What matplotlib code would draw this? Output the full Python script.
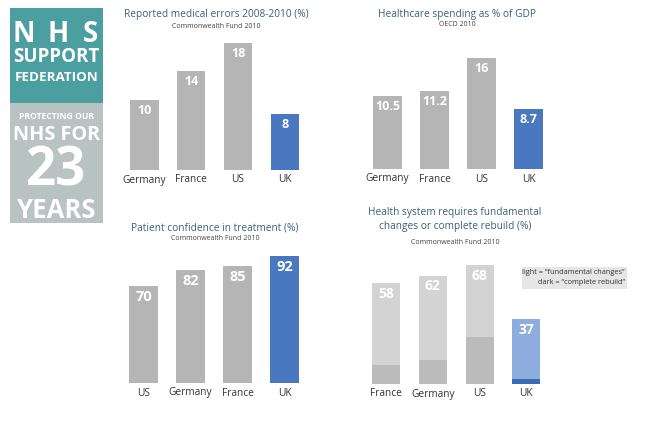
import matplotlib.pyplot as plt
from matplotlib.patches import Rectangle

plt.rcParams['font.family'] = ['Open Sans', 'DejaVu Sans']

W, H = 650, 421

# data
errors_cats = ["Germany", "France", "US", "UK"]
errors_vals = [10, 14, 18, 8]

spend_cats = ["Germany", "France", "US", "UK"]
spend_vals = [10.5, 11.2, 16, 8.7]
spend_labels = ["10.5", "11.2", "16", "8.7"]

conf_cats = ["US", "Germany", "France", "UK"]
conf_vals = [70, 82, 85, 92]

rebuild_cats = ["France", "Germany", "US", "UK"]
rebuild_total = [58, 62, 68, 37]
rebuild_complete = [11, 14, 27, 3]

GREY = "#b5b5b5"
BLUE = "#4a78c0"
LIGHT_GREY = "#d3d3d3"
DARK_GREY = "#bbbbbb"
LIGHT_BLUE = "#8cadde"
DARK_BLUE = "#3a6bb5"
TITLE_C = "#3d6078"
SUB_C = "#444444"

fig = plt.figure(figsize=(6.5, 4.21), dpi=100)
fig.patch.set_facecolor("white")


def px(x, y):
    # pixel (from top-left) -> figure fraction
    return x / W, 1 - y / H


def make_ax(x0, step, base, scale, span=150):
    left = x0 - step / 2
    ax = fig.add_axes([left / W, (H - base) / H, 4 * step / W, span / H])
    ax.set_xlim(-0.5, 3.5)
    ax.set_ylim(0, span / scale)
    ax.axis("off")
    return ax


def cat_labels(ax, cats, scale):
    for i, c in enumerate(cats):
        ax.text(i, -10 / scale, c, ha="center", va="center", fontsize=7.3,
                color="#333333")


def val_labels(ax, vals, labels, scale, size):
    for i, (v, t) in enumerate(zip(vals, labels)):
        ax.text(i, v - 4 / scale, t, ha="center", va="top", fontsize=size,
                color="white", fontweight="bold")


def title(x, y, lines, sub, sub_y):
    for k, line in enumerate(lines):
        fig.text(*px(x, y + k * 14), line, ha="center", va="center",
                 fontsize=7.3, color=TITLE_C)
    fig.text(*px(x, sub_y), sub, ha="center", va="center", fontsize=5,
             color=SUB_C)


# panel 1
s1 = 7.05
ax1 = make_ax(144.5, 46.8, 170, s1)
ax1.bar(range(4), errors_vals, width=0.6, color=[GREY, GREY, GREY, BLUE])
val_labels(ax1, errors_vals, [str(v) for v in errors_vals], s1, 9)
cat_labels(ax1, errors_cats, s1)
title(216, 15, ["Reported medical errors 2008-2010 (%)"], "Commonwealth Fund 2010", 26)

# panel 2
s2 = 6.93
ax2 = make_ax(387.5, 47, 169, s2)
ax2.bar(range(4), spend_vals, width=0.6, color=[GREY, GREY, GREY, BLUE])
val_labels(ax2, spend_vals, spend_labels, s2, 9)
cat_labels(ax2, spend_cats, s2)
title(457, 15, ["Healthcare spending as % of GDP"], "OECD 2010", 25)

# panel 3
s3 = 1.38
ax3 = make_ax(143.5, 47, 383, s3)
ax3.bar(range(4), conf_vals, width=0.6, color=[GREY, GREY, GREY, BLUE])
val_labels(ax3, conf_vals, [str(v) for v in conf_vals], s3, 10.5)
cat_labels(ax3, conf_cats, s3)
title(215, 228, ["Patient confidence in treatment (%)"], "Commonwealth Fund 2010", 239)

# panel 4
s4 = 1.75
ax4 = make_ax(386, 46.8, 384, s4)
ax4.bar(range(4), rebuild_total, width=0.6,
        color=[LIGHT_GREY, LIGHT_GREY, LIGHT_GREY, LIGHT_BLUE])
ax4.bar(range(4), rebuild_complete, width=0.6,
        color=[DARK_GREY, DARK_GREY, DARK_GREY, DARK_BLUE])
val_labels(ax4, rebuild_total, [str(v) for v in rebuild_total], s4, 10)
cat_labels(ax4, rebuild_cats, s4)
title(455, 213, ["Health system requires fundamental", "changes or complete rebuild (%)"],
      "Commonwealth Fund 2010", 242)

# legend box
fig.patches.append(Rectangle(px(522, 289), 105 / W, 22 / H, transform=fig.transFigure,
                             facecolor="#e6e6e6", edgecolor="none"))
fig.text(*px(625, 273), "light = \u201cfundamental changes\u201d", ha="right", va="center",
         fontsize=5.3, color="#333333")
fig.text(*px(625, 283), "dark = \u201ccomplete rebuild\u201d", ha="right", va="center",
         fontsize=5.3, color="#333333")

# logo
fig.patches.append(Rectangle(px(10, 103), 93 / W, 95 / H, transform=fig.transFigure,
                             facecolor="#4c9fa1", edgecolor="none"))
fig.patches.append(Rectangle(px(10, 223), 93 / W, 120 / H, transform=fig.transFigure,
                             facecolor="#b9c3c2", edgecolor="none"))
for letter, x in zip("NHS", [24, 58.5, 90]):
    fig.text(*px(x, 42), letter, ha="center", va="baseline", fontsize=20,
             color="white", fontweight="bold")
logo = [
    ("SUPPORT", 62, 13.5, 56.5),
    ("FEDERATION", 81, 9.7, 56.5),
    ("PROTECTING OUR", 119, 6.2, 56.5),
    ("NHS FOR", 140, 14.3, 56.5),
    ("23", 186, 38, 56.5),
    ("YEARS", 217.5, 18.5, 56.5),
]
for txt, y, size, x in logo:
    fig.text(*px(x, y), txt, ha="center", va="baseline", fontsize=size,
             color="white", fontweight="bold")

fig.savefig("out.png", dpi=100)
